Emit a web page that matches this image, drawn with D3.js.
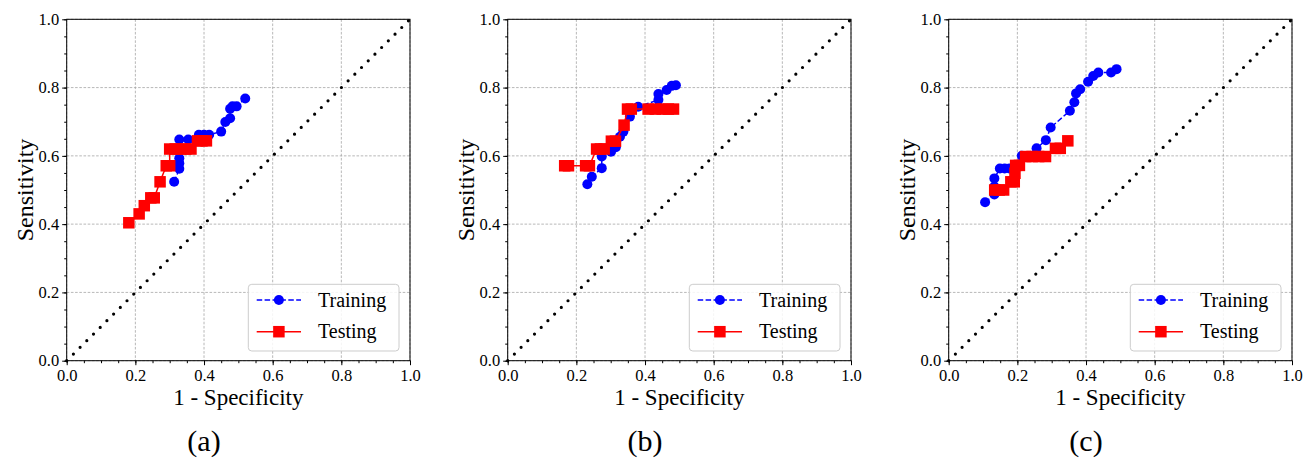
<!DOCTYPE html>
<html>
<head>
<meta charset="utf-8">
<script src="https://cdn.jsdelivr.net/npm/d3@7"></script>
<style>
  html, body { margin: 0; padding: 0; background: #fff; }
  svg { display: block; }
  text { font-family: "Liberation Serif", "Times New Roman", serif; fill: #000; }
</style>
</head>
<body>
<svg id="chart" width="1304" height="459"></svg>
<script>
// ROC points as [1 - specificity, sensitivity]
const trainingA = [
  [0.313,0.524],[0.328,0.562],[0.328,0.578],[0.328,0.593],[0.328,0.648],
  [0.354,0.648],[0.385,0.662],[0.400,0.662],[0.415,0.662],[0.450,0.671],
  [0.462,0.699],[0.476,0.710],[0.476,0.738],[0.483,0.745],[0.495,0.745],
  [0.520,0.768]
];
const testingA = [
  [0.181,0.404],[0.211,0.430],[0.226,0.454],[0.245,0.477],[0.255,0.477],
  [0.272,0.524],[0.290,0.571],[0.300,0.571],[0.300,0.620],[0.316,0.620],
  [0.331,0.620],[0.347,0.620],[0.362,0.620],[0.381,0.644],[0.394,0.644],
  [0.407,0.644]
];
const trainingB = [
  [0.232,0.517],[0.245,0.539],[0.274,0.564],[0.274,0.598],[0.301,0.612],
  [0.315,0.625],[0.327,0.656],[0.337,0.671],[0.356,0.715],[0.380,0.744],
  [0.439,0.764],[0.439,0.781],[0.463,0.793],[0.478,0.805],[0.490,0.807]
];
const testingB = [
  [0.166,0.571],[0.177,0.571],[0.227,0.571],[0.238,0.571],[0.259,0.620],
  [0.270,0.620],[0.281,0.620],[0.302,0.643],[0.314,0.643],[0.339,0.690],
  [0.349,0.737],[0.360,0.737],[0.409,0.737],[0.430,0.737],[0.450,0.737],
  [0.468,0.737],[0.483,0.737]
];
const trainingC = [
  [0.106,0.464],[0.133,0.487],[0.133,0.510],[0.133,0.534],[0.149,0.563],
  [0.163,0.563],[0.177,0.563],[0.213,0.600],[0.256,0.622],[0.283,0.646],
  [0.297,0.683],[0.353,0.732],[0.366,0.757],[0.371,0.783],[0.383,0.795],
  [0.406,0.817],[0.421,0.834],[0.436,0.844],[0.473,0.844],[0.489,0.854]
];
const testingC = [
  [0.134,0.500],[0.147,0.500],[0.160,0.500],[0.181,0.524],[0.191,0.524],
  [0.193,0.549],[0.195,0.572],[0.206,0.572],[0.224,0.598],[0.243,0.598],
  [0.262,0.598],[0.282,0.598],[0.311,0.622],[0.325,0.622],[0.347,0.644]
];
const panelLabels = ["(a)", "(b)", "(c)"];
const majorTicks = [0, 0.2, 0.4, 0.6, 0.8, 1.0];
const minorTicks = d3.range(0, 21).map(i => i * 0.05);
const seriesNames = ["Training", "Testing"];
const xTitle = "1 - Specificity";
const yTitle = "Sensitivity";

const panels = [
  { label: panelLabels[0], train: trainingA, test: testingA },
  { label: panelLabels[1], train: trainingB, test: testingB },
  { label: panelLabels[2], train: trainingC, test: testingC }
];

const svg = d3.select("#chart");
const W = 343.3, H = 341.4, topY = 19.3, left0 = 66.7, step = 441;
const BLUE = "#0000ff", RED = "#ff0000";

const x = d3.scaleLinear().domain([0, 1]).range([0, W]);
const y = d3.scaleLinear().domain([0, 1]).range([H, 0]);
const line = d3.line().x(d => x(d[0])).y(d => y(d[1]));

panels.forEach((p, i) => {
  const gx = left0 + i * step;
  const g = svg.append("g").attr("transform", `translate(${gx},${topY})`);

  // grid
  const grid = g.append("g");
  grid.selectAll(".gv").data(majorTicks).join("line")
    .attr("x1", d => x(d)).attr("x2", d => x(d)).attr("y1", 0).attr("y2", H)
    .attr("stroke", "#a6a6a6").attr("stroke-width", 0.8).attr("stroke-dasharray", "2.6,1.6");
  grid.selectAll(".gh").data(majorTicks).join("line")
    .attr("y1", d => y(d)).attr("y2", d => y(d)).attr("x1", 0).attr("x2", W)
    .attr("stroke", "#a6a6a6").attr("stroke-width", 0.8).attr("stroke-dasharray", "2.6,1.6");

  // chance diagonal
  g.append("path").datum([[0, 0], [1, 1]]).attr("d", line)
    .attr("fill", "none").attr("stroke", "#000").attr("stroke-width", 3.2)
    .attr("stroke-linecap", "round").attr("stroke-dasharray", "0,9.45");

  // training curve
  g.append("path").datum(p.train).attr("d", line)
    .attr("fill", "none").attr("stroke", BLUE).attr("stroke-width", 1.5)
    .attr("stroke-dasharray", "5.5,2.4");
  g.selectAll(".tr").data(p.train).join("circle")
    .attr("cx", d => x(d[0])).attr("cy", d => y(d[1])).attr("r", 5)
    .attr("fill", BLUE);

  // testing curve
  g.append("path").datum(p.test).attr("d", line)
    .attr("fill", "none").attr("stroke", RED).attr("stroke-width", 1.5);
  const s = 11.5;
  g.selectAll(".te").data(p.test).join("rect")
    .attr("x", d => x(d[0]) - s / 2).attr("y", d => y(d[1]) - s / 2)
    .attr("width", s).attr("height", s).attr("fill", RED);

  // axes
  const fmt = d3.format(".1f");
  const xa = g.append("g").attr("transform", `translate(0,${H})`)
    .call(d3.axisBottom(x).tickValues(majorTicks).tickFormat(fmt).tickSize(4.5).tickPadding(3));
  g.append("g").attr("transform", `translate(0,${H})`)
    .call(d3.axisBottom(x).tickValues(minorTicks).tickFormat("").tickSize(2.5));
  const ya = g.append("g")
    .call(d3.axisLeft(y).tickValues(majorTicks).tickFormat(fmt).tickSize(4.5).tickPadding(3));
  g.append("g")
    .call(d3.axisLeft(y).tickValues(minorTicks).tickFormat("").tickSize(2.5));
  g.selectAll(".domain").remove();
  g.selectAll(".tick line").attr("stroke", "#000").attr("stroke-width", 1);
  [xa, ya].forEach(a => a.selectAll("text")
    .attr("font-family", "Liberation Serif, serif").attr("font-size", 16.5).attr("fill", "#000"));
  xa.selectAll("text").attr("dy", "0.78em");

  // frame
  g.append("rect").attr("x", 0).attr("y", 0).attr("width", W).attr("height", H)
    .attr("fill", "none").attr("stroke", "#000").attr("stroke-width", 1);

  // legend
  const lg = g.append("g").attr("transform", `translate(${181.6},${265})`);
  lg.append("rect").attr("width", 150.7).attr("height", 66.7).attr("rx", 3.5)
    .attr("fill", "#fff").attr("fill-opacity", 0.85)
    .attr("stroke", "#cccccc").attr("stroke-width", 1);
  const rows = [15.7, 47.4];
  lg.append("line").attr("x1", 8.4).attr("x2", 52.7).attr("y1", rows[0]).attr("y2", rows[0])
    .attr("stroke", BLUE).attr("stroke-width", 1.5).attr("stroke-dasharray", "5.5,2.4");
  lg.append("circle").attr("cx", 30.6).attr("cy", rows[0]).attr("r", 5).attr("fill", BLUE);
  lg.append("line").attr("x1", 8.4).attr("x2", 52.7).attr("y1", rows[1]).attr("y2", rows[1])
    .attr("stroke", RED).attr("stroke-width", 1.5);
  lg.append("rect").attr("x", 30.6 - s / 2).attr("y", rows[1] - s / 2)
    .attr("width", s).attr("height", s).attr("fill", RED);
  seriesNames.forEach((n, k) => {
    lg.append("text").attr("x", 69.7).attr("y", rows[k] + 6.8)
      .attr("font-size", 20).text(n);
  });

  // axis titles
  g.append("text").attr("x", W / 2).attr("y", 405 - topY)
    .attr("text-anchor", "middle").attr("font-size", 23).text(xTitle);
  g.append("text").attr("transform", `translate(${33 - left0},${190 - topY}) rotate(-90)`)
    .attr("text-anchor", "middle").attr("font-size", 24).text(yTitle);

  // panel caption
  g.append("text").attr("x", 204 - left0).attr("y", 451 - topY)
    .attr("text-anchor", "middle").attr("font-size", 30).text(p.label);
});
</script>
</body>
</html>
